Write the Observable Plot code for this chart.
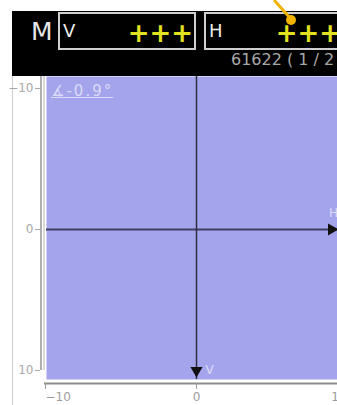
<!DOCTYPE html>
<html><head><meta charset="utf-8">
<script src="https://cdn.jsdelivr.net/npm/d3@7"></script>
<script src="https://cdn.jsdelivr.net/npm/@observablehq/plot@0.6"></script>
<style>
html,body{margin:0;padding:0;background:#fff;}
#wrap{position:relative;width:337px;height:405px;overflow:hidden;font-family:"DejaVu Sans",sans-serif;background:#fff;}
#head{position:absolute;left:0;top:0;}
#chart{position:absolute;left:0;top:76px;}
#border{position:absolute;left:12px;top:76px;width:1px;height:329px;background:#cfcfcf;}
#angle{position:absolute;left:51px;top:82px;font-size:15px;line-height:18px;letter-spacing:2px;color:#dadaf6;text-decoration:underline;white-space:nowrap;}
</style></head>
<body>
<div id="wrap">
  <div id="border"></div>
  <div id="head"></div>
  <div id="chart"></div>
  <div id="angle"></div>
</div>
<script>
// ---- data ----
const modeLabel = "M";
const channelLabels = ["V", "H"];
const gainMarks = ["+++", "+++"];
const counterText = "61622 ( 1 / 2";
const angleText = "∡-0.9°";
const xTicks = [-10, 0, 10];
const yTicks = [-10, 0, 10];
const axisNames = ["V", "H"];
const xDomain = [-10, 9.4];
const yExtent = [-10.85, 10.64];

// ---- header (instrument status bar) ----
const head = d3.select("#head").append("svg").attr("width", 337).attr("height", 76);
head.append("rect").attr("x", 12).attr("y", 11).attr("width", 325).attr("height", 65).attr("fill", "#000");
head.append("text").attr("x", 31).attr("y", 40).attr("font-size", 25).attr("fill", "#e6e6e6")
  .attr("font-family", '"DejaVu Sans",sans-serif').text(modeLabel);
const boxX = [59, 205];
channelLabels.forEach((lab, i) => {
  head.append("rect").attr("x", boxX[i]).attr("y", 13).attr("width", i === 0 ? 136 : 150).attr("height", 36)
    .attr("fill", "none").attr("stroke", "#cfcfcf").attr("stroke-width", 2);
  head.append("text").attr("x", boxX[i] + 4).attr("y", 37).attr("font-size", 18).attr("fill", "#eeeeee")
    .attr("font-family", '"DejaVu Sans",sans-serif').text(lab);
  head.append("text").attr("x", boxX[i] + (i === 0 ? 134 : 136)).attr("y", 41.5).attr("text-anchor", "end")
    .attr("font-size", 26).attr("font-weight", "bold").attr("fill", "#e2e21e")
    .attr("font-family", '"DejaVu Sans",sans-serif').text(gainMarks[i]);
});
head.append("text").attr("x", 231).attr("y", 65).attr("font-size", 16).attr("fill", "#a8a8a8")
  .attr("font-family", '"DejaVu Sans",sans-serif').text(counterText);
head.append("line").attr("x1", 274).attr("y1", 0).attr("x2", 291).attr("y2", 19)
  .attr("stroke", "#f2b400").attr("stroke-width", 3);
head.append("circle").attr("cx", 291).attr("cy", 20).attr("r", 5).attr("fill", "#f2b400");

d3.select("#angle").text(angleText);

// ---- chart ----
const axisStyle = {tickSize: 6, dy: 4, color: "#9c9c9c", fontSize: 12, tickPadding: 3, label: null};
const plot = Plot.plot({
  width: 337,
  height: 329,
  marginLeft: 46,
  marginRight: 0,
  marginTop: 0,
  marginBottom: 26,
  style: {fontFamily: '"DejaVu Sans",sans-serif', fontSize: "12px", background: "transparent", overflow: "visible"},
  x: {domain: xDomain},
  y: {domain: yExtent, reverse: true},
  marks: [
    Plot.frame({fill: "#a4a4ec", stroke: "none"}),
    // x axis baseline
    Plot.ruleY([yExtent[1]], {stroke: "#8c8c8c", strokeWidth: 2, dy: 4, insetLeft: -2}),
    Plot.axisX({...axisStyle, ticks: [xTicks[0]], textAnchor: "start", dx: -1}),
    Plot.axisX({...axisStyle, ticks: [xTicks[1]]}),
    Plot.axisX({...axisStyle, ticks: [xTicks[2]], textAnchor: "end"}),
    // y axis line (double)
    Plot.ruleX([xDomain[0]], {y1: () => yExtent[0], y2: () => yTicks[2], dx: -5.5, stroke: "#959595", strokeWidth: 1.5}),
    Plot.ruleX([xDomain[0]], {y1: () => yExtent[0], y2: () => yTicks[2], dx: -2.5, stroke: "#b4b4b4", strokeWidth: 1}),
    Plot.axisY({ticks: yTicks, tickSize: 5, dx: -6, color: "#a8a8a8", fontSize: 12, tickPadding: 2, label: null}),
    // H axis (horizontal line through 0)
    Plot.ruleY([0], {stroke: "#3e3e5e", strokeWidth: 2}),
    Plot.dot([0], {x: () => xDomain[1], y: d => d, symbol: "triangle", r: 4.5, rotate: 90, dx: -6, fill: "#111", stroke: "none"}),
    Plot.text([axisNames[1]], {x: () => xDomain[1], y: () => 0, text: d => d, dx: -4, dy: -16, fill: "#dcdcf8", fontSize: 12}),
    // V axis (vertical line through 0)
    Plot.ruleX([0], {stroke: "#2e2e3e", strokeWidth: 1.5}),
    Plot.dot([0], {x: d => d, y: () => yExtent[1], symbol: "triangle", r: 4.5, rotate: 180, dy: -9, fill: "#111", stroke: "none"}),
    Plot.text([axisNames[0]], {x: () => 0, y: () => yTicks[2], text: d => d, dx: 9, textAnchor: "start", fill: "#dcdcf8", fontSize: 12})
  ]
});
document.getElementById("chart").appendChild(plot);
</script>
</body></html>
